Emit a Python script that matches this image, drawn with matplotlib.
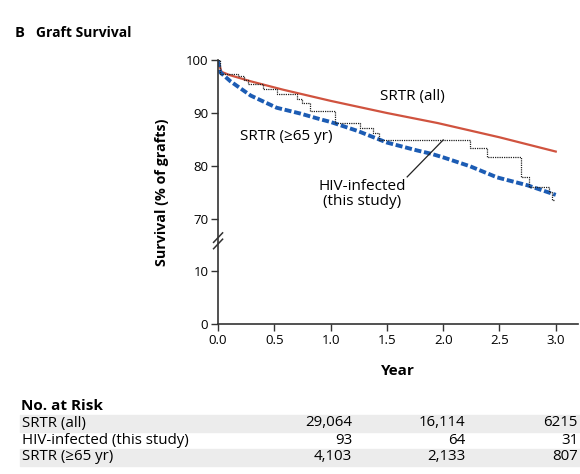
import matplotlib.pyplot as plt
import numpy as np

plt.rcParams['font.family'] = ['Open Sans', 'DejaVu Sans']

# SRTR (all) graft survival
srtr_t = [0, 0.03, 0.10, 0.29, 0.58, 1.0, 1.5, 1.95, 2.5, 3.0]
srtr_s = [100, 97.8, 97.2, 96.0, 94.4, 92.3, 90.0, 88.1, 85.4, 82.7]

# SRTR (>=65 yr)
old_t = [0, 0.02, 0.11, 0.29, 0.52, 0.73, 0.91, 1.0, 1.24, 1.5, 1.77, 1.89, 2.0, 2.24, 2.48, 2.75, 3.0]
old_s = [100, 97.7, 96.0, 93.3, 91.0, 89.9, 88.8, 88.3, 86.6, 84.4, 82.9, 82.3, 81.6, 79.9, 77.8, 76.3, 74.5]

# HIV-infected (this study), Kaplan-Meier steps
hiv_t = [0, 0.02, 0.18, 0.23, 0.27, 0.40, 0.52, 0.70, 0.75, 0.82, 1.04, 1.26, 1.38, 1.43,
         2.24, 2.39, 2.69, 2.76, 2.94, 2.97, 2.99]
hiv_s = [100, 97.4, 97.0, 96.2, 95.4, 94.6, 93.6, 92.6, 91.9, 90.3, 88.2, 87.1, 86.2, 84.9,
         83.3, 81.7, 77.9, 76.0, 75.1, 73.5, 73.5]

yticks = [0, 10, 70, 80, 90, 100]
xticks = [0.0, 0.5, 1.0, 1.5, 2.0, 2.5, 3.0]

risk_groups = ['SRTR (all)', 'HIV-infected (this study)', 'SRTR (≥65 yr)']
risk_counts = [['29,064', '16,114', '6215'],
               ['93', '64', '31'],
               ['4,103', '2,133', '807']]


def brk(v):
    # broken axis: 0-10 kept, 10-70 squeezed to 10 units
    v = np.asarray(v, dtype=float)
    return np.where(v <= 10, v, v - 50)


fig = plt.figure(figsize=(5.8, 4.74), dpi=100)
ax = fig.add_axes([0.376, 0.316, 0.621, 0.557])

red = '#d0533f'
blue = '#1c5cb4'

ax.plot(srtr_t, brk(srtr_s), color=red, lw=1.6)
ax.plot(old_t, brk(old_s), color=blue, lw=2.8, ls=(0, (1.8, 0.7)))
ax.plot(hiv_t, brk(hiv_s), color='#222222', lw=0.9, ls=(0, (1, 0.8)), drawstyle='steps-post')

ax.set_xlim(0, 3.2)
ax.set_ylim(0, 50)
ax.set_xticks(xticks)
ax.set_xticklabels([f'{t:.1f}' for t in xticks])
ax.set_yticks(brk(yticks))
ax.set_yticklabels([str(t) for t in yticks])
ax.tick_params(labelsize=9.5, length=5, width=1, color='#333333', pad=2)
for s in ['top', 'right']:
    ax.spines[s].set_visible(False)
for s in ['left', 'bottom']:
    ax.spines[s].set_color('#333333')
    ax.spines[s].set_linewidth(1.2)

# break marks on the y axis
for yb in [15.2, 16.4]:
    ax.plot([-0.04, 0.04], [yb - 0.9, yb + 0.9], color='#333333', lw=1.1,
            clip_on=False)

ax.text(1.73, brk(93.1), 'SRTR (all)', fontsize=11, ha='center', va='center')
ax.text(0.61, brk(85.5), 'SRTR (≥65 yr)', fontsize=11, ha='center', va='center')
ax.text(1.28, brk(74.7), 'HIV-infected\n(this study)', fontsize=11, ha='center',
        va='center', linespacing=1.05)
ax.plot([1.68, 2.0], brk([77.9, 84.9]), color='#222222', lw=0.9)

ax.set_ylabel('Survival (% of grafts)', fontsize=10.3, fontweight='bold', labelpad=12)
ax.set_xlabel('Year', fontsize=11, fontweight='bold', labelpad=12)

fig.text(0.026, 0.93, 'B', fontsize=10.5, fontweight='bold', va='center')
fig.text(0.062, 0.93, 'Graft Survival', fontsize=10, fontweight='bold', va='center')

# number at risk table
fig.text(0.036, 1 - 406 / 474, 'No. at Risk', fontsize=11, fontweight='bold', va='center')
row_y = [423, 440, 457]
col_x = [352, 465, 578]
for i, (name, counts) in enumerate(zip(risk_groups, risk_counts)):
    yc = 1 - row_y[i] / 474
    if i != 1:
        fig.patches.append(plt.Rectangle((0.034, yc - 8.5 / 474), 0.966, 17 / 474,
                                         transform=fig.transFigure, color='#ececec',
                                         zorder=0))
    fig.text(0.038, yc, name, fontsize=10.8, va='center')
    for xc, c in zip(col_x, counts):
        fig.text(xc / 580, yc, c, fontsize=10.8, va='center', ha='right')

fig.savefig('out.png', dpi=100)
